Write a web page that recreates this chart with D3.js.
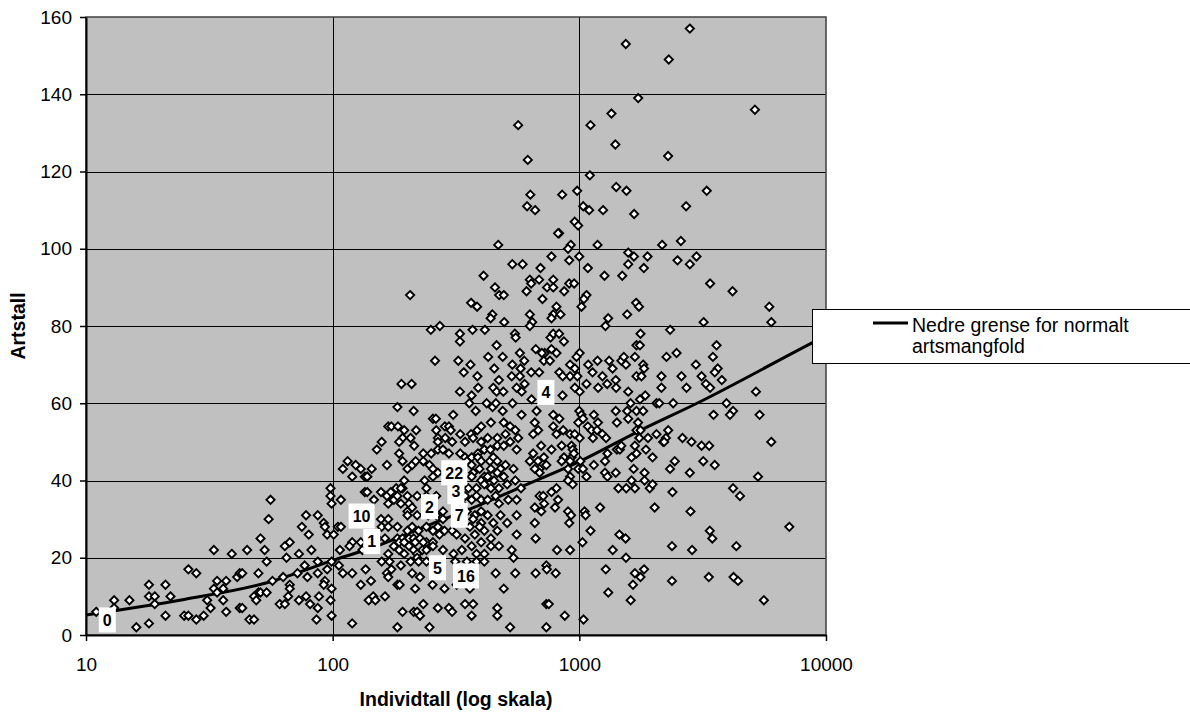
<!DOCTYPE html>
<html>
<head>
<meta charset="utf-8">
<script src="https://cdn.jsdelivr.net/npm/d3@7"></script>
<style>
body { margin: 0; background: #fff; }
text { font-family: "Liberation Sans", Arial, sans-serif; }
</style>
</head>
<body>
<script>
// [individtall, artstall] for each sample
var punkter = [
[11,6],[13,9],[13,7],[15,9],[16,2],[18,13],[18,10],[18,3],[19,10],[19,8],[21,13],[22,10],[21,5],[25,5],[26,5],[26,17],[28,16],[28,4],[30,5],[31,9],[32,7],[33,22],[33,12],[34,14],[34,11],[36,12],[36,9],[37,14],[37,6],[39,21],[41,15],[42,16],[43,16],[42,7],[43,7],[45,22],[46,4],[48,4],[48,10],[50,11],[50,16],[51,11],[49,9],[51,25],[53,22],[54,19],[54,11],[55,30],[56,35],[57,14],[61,8],[64,8],[63,15],[64,23],[65,20],[67,24],[67,13],[67,12],[66,10],[73,21],[73,9],[72,16],[75,28],[78,31],[78,10],[77,18],[79,15],[80,26],[81,8],[82,22],[87,31],[87,19],[87,16],[88,10],[87,7],[86,4],[92,29],[93,28],[95,26],[93,14],[92,13],[98,38],[98,36],[99,34],[99,19],[99,12],[99,5],[95,17],[98,9],
[366,62],[536,60],[358,60],[380,58],[421,60],[445,59],[459,60],[489,58],[583,57],[183,59],[213,58],[308,57],[255,56],[262,56],[285,54],[168,54],[173,54],[184,54],[195,53],[218,53],[263,53],[296,54],[301,53],[329,52],[364,52],[386,53],[400,54],[438,55],[494,55],[524,54],[550,53],[192,51],[207,51],[267,51],[286,51],[305,50],[344,50],[371,51],[400,50],[425,51],[465,51],[502,52],[524,50],[565,51],[158,50],[151,48],[186,50],[214,49],[186,47],[233,47],[267,50],[267,48],[280,48],[296,47],[329,47],[344,46],[366,46],[388,47],[412,48],[436,48],[465,49],[494,49],[557,48],[251,47],
[115,45],[110,43],[124,44],[130,43],[135,41],[138,41],[144,43],[166,44],[192,45],[201,43],[210,44],[217,45],[233,45],[247,44],[255,43],[267,42],[350,45],[366,44],[388,46],[400,45],[434,45],[448,46],[465,45],[479,43],[502,44],[541,43],[371,42],[394,43],[412,41],[438,43],[465,42],[120,41],[138,41],[195,40],[236,40],[255,41],[334,40],[366,41],[400,40],[425,41],[451,40],[494,41],[550,40],[355,38],[383,38],[412,39],[438,38],[472,38],[510,39],[580,38],[240,38],[192,38],[181,38],
[108,35],[135,37],[138,37],[147,35],[157,37],[166,36],[172,37],[177,35],[183,36],[189,38],[201,36],[189,34],[168,34],[204,34],[220,36],[240,36],[247,35],[263,36],[344,36],[366,35],[383,36],[400,35],[425,35],[458,36],[472,34],[515,35],[557,35],[334,34],[280,32],[201,32],[210,33],[105,28],[108,28],[157,30],[168,30],[183,28],[201,31],[220,31],[244,31],[263,31],[280,30],[329,33],[350,32],[377,31],[400,32],[400,29],[425,31],[448,29],[510,29],[557,31],[479,31],[371,30],[394,28],[158,28],[168,28],
[101,26],[120,24],[130,24],[152,25],[163,25],[183,25],[192,25],[201,27],[210,28],[223,27],[240,28],[255,27],[267,28],[271,26],[284,27],[305,27],[318,26],[344,25],[360,28],[377,26],[412,27],[438,25],[465,27],[557,26],[204,25],[213,25],[226,25],[240,24],[255,24],[186,24],[195,24],[216,24],[233,24],[107,22],[117,23],[132,22],[168,21],[186,22],[195,21],[204,23],[213,22],[220,21],[231,22],[240,22],[255,23],[280,22],[309,21],[334,22],[366,23],[400,24],[383,21],[412,21],[438,23],[472,23],[532,22],[177,23],
[106,18],[110,16],[120,16],[136,17],[166,16],[173,17],[168,15],[189,18],[207,19],[220,20],[223,19],[240,19],[314,19],[350,19],[383,19],[412,19],[458,16],[541,20],[158,19],[170,19],[130,13],[143,14],[183,13],[187,13],[210,16],[216,12],[226,15],[254,13],[284,12],[318,13],[360,12],[494,12],[550,16],[140,9],[146,10],[149,9],[163,10],[233,8],[267,7],[296,7],[344,8],[371,8],[465,7],[120,3],[183,2],[192,6],[213,6],[220,6],[226,5],[247,2],[366,5],[465,5],[524,2],[305,6],
[469,101],[535,96],[589,96],[409,93],[455,90],[473,88],[494,88],[611,89],[206,88],[364,86],[385,85],[444,83],[437,82],[496,81],[250,79],[272,80],[328,78],[328,76],[369,79],[414,79],[548,78],[552,77],[462,75],[574,73],[260,71],[323,71],[362,70],[427,72],[489,72],[340,68],[386,67],[452,69],[535,70],[578,69],[598,71],[532,67],[574,67],[472,66],[600,65],[190,65],[209,65],[328,63],[389,64],[448,64],[462,63],[557,64],[584,63],[492,63],
[2805,157],[1543,153],[2305,149],[1732,139],[5150,136],[1350,135],[565,132],[1110,132],[1400,127],[618,123],[2290,124],[1103,119],[633,114],[614,111],[662,110],[852,114],[980,115],[1037,111],[1096,110],[1248,110],[1411,116],[1553,115],[1668,109],[3285,115],[2710,111],[958,107],[989,106],[828,104],[820,104],[2580,102],[2166,101],[1185,101],[923,101],[900,100],
[696,95],[771,98],[910,97],[999,98],[1083,95],[1578,99],[1665,98],[1890,98],[1578,96],[1826,95],[2500,97],[2985,98],[2806,96],[1265,93],[1493,93],[630,92],[687,92],[638,91],[740,90],[784,92],[784,90],[868,89],[910,91],[953,91],[709,87],[1069,88],[1043,87],[1020,85],[808,85],[784,83],[839,83],[630,83],[644,81],[630,80],[771,82],[1699,86],[1745,85],[1563,83],[1309,82],[1276,80],[2334,79],[1770,78],[1705,75],[1760,75],[666,74],[724,73],[764,77],[784,78],[828,78],[866,76],[808,73],[705,73],[718,71],[771,74],[760,71],[1003,73],[974,72],[917,70],[1185,71],[1321,71],[1481,71],[1515,72],[1680,72],[2256,72],[2479,73],[2968,70],[1086,70],[959,69],[917,67],[982,67],[830,68],[856,67],[638,68],[687,68],[1131,68],[1364,69],[1241,67],[1405,66],[1545,70],[1815,70],[1830,69],[1705,67],[1786,67],[2152,67],[2595,67],[1069,65],[1192,64],[1297,65],[1410,64],[1578,63],[2152,64],[2720,64],[1003,63],[959,64],
[640,61],[855,62],[1613,60],[1761,61],[1850,62],[2055,60],[2109,60],[2402,60],[671,58],[784,57],[830,56],[1000,58],[1020,57],[1035,56],[990,55],[1145,57],[1190,55],[1405,58],[1420,55],[1563,58],[1578,56],[1705,58],[1815,58],[1730,55],[660,55],[650,52],[681,53],[784,54],[860,53],[808,52],[917,52],[958,52],[1003,51],[1083,54],[1120,53],[1135,51],[1180,53],[1240,52],[1284,51],[1705,53],[1770,53],[1750,51],[1898,51],[2055,52],[2187,50],[2243,51],[2292,53],[2207,50],[2620,51],[2850,50],
[650,47],[700,49],[771,48],[848,49],[866,46],[848,45],[930,49],[940,48],[930,46],[950,47],[630,45],[680,45],[718,46],[735,44],[690,43],[660,43],[690,42],[917,45],[1010,45],[990,43],[1035,43],[900,43],[917,41],[900,40],[940,39],[1069,41],[1145,44],[1271,45],[1300,47],[1271,42],[1300,41],[1405,42],[1420,48],[1460,48],[1480,49],[1628,46],[1660,43],[1680,49],[1705,47],[1862,48],[1981,46],[1838,42],[1628,40],[1838,40],[1550,38],[1440,38],[1680,38],[1930,38],[1981,39],[2385,37],[2437,45],[2332,43],[2805,42],
[690,36],[720,34],[771,37],[808,38],[820,35],[714,36],[797,33],[660,33],[701,32],[900,32],[926,31],[1050,32],[1060,31],[910,29],[1214,33],[2020,33],[2823,32],[660,29],[665,25],[1110,27],[1030,24],[1453,26],[1540,25],[1366,22],[1546,20],[2375,23],[2865,22],[812,22],[917,22],[665,16],[735,18],[738,17],[802,16],[1280,17],[1680,16],[1770,15],[1830,17],[1650,13],[1310,11],[1615,9],[2375,14],[735,8],[752,8],[873,5],[735,2],[1040,4],
[3390,91],[4180,89],[3190,81],[5890,85],[6000,81],[3600,75],[3480,72],[3640,69],[3540,68],[3130,67],[3780,66],[3260,65],[3390,64],[5200,63],[3950,60],[4200,58],[4080,57],[3500,57],[5380,57],[3130,49],[3360,49],[6000,50],[3180,45],[3540,44],[5300,41],[4200,38],[4480,36],[7100,28],[3380,27],[3460,25],[4330,23],[3350,15],[4220,15],[4400,14],[5600,9]
];

// lower limit curve
var grenseX = [10, 25, 56, 97, 155, 247, 396, 630, 1000, 1770, 3000, 8700, 10000];
var grenseY = [5.2, 9.2, 13.8, 19, 23.3, 28.5, 33.7, 39.3, 44.9, 53, 60, 75.5, 77.5];

// numbered sites with labels
var lokNavn = ['0', '10', '1', '2', '22', '3', '7', '4', '5', '16'];
var lokX = [12.2, 131, 144, 247, 311, 316, 326, 732, 266, 347];
var lokY = [3.9, 30.8, 24.2, 33.2, 42, 37.1, 31, 62.8, 17.4, 15.3];

var yTicks = [0, 20, 40, 60, 80, 100, 120, 140, 160];
var xTicks = [10, 100, 1000, 10000];

var pLeft = 86, pRight = 826, pTop = 17, pBottom = 635;

var svg = d3.select('body').append('svg').attr('width', 1190).attr('height', 713);

var x = d3.scaleLog().domain([10, 10000]).range([pLeft, pRight]);
var y = d3.scaleLinear().domain([0, 160]).range([pBottom, pTop]);

svg.append('rect').attr('x', pLeft).attr('y', pTop).attr('width', pRight - pLeft).attr('height', pBottom - pTop)
	.attr('fill', '#c0c0c0');

/* grid */
svg.append('g').selectAll('line').data(yTicks.slice(1, -1)).enter().append('line')
	.attr('x1', pLeft).attr('x2', pRight).attr('y1', function(d){ return Math.round(y(d)) + 0.5; }).attr('y2', function(d){ return Math.round(y(d)) + 0.5; })
	.style('stroke', '#000').style('stroke-width', 1);
svg.append('g').selectAll('line').data([100, 1000]).enter().append('line')
	.attr('y1', pTop).attr('y2', pBottom).attr('x1', function(d){ return Math.round(x(d)) + 0.5; }).attr('x2', function(d){ return Math.round(x(d)) + 0.5; })
	.style('stroke', '#000').style('stroke-width', 1);

svg.append('rect').attr('x', pLeft).attr('y', pTop).attr('width', pRight - pLeft).attr('height', pBottom - pTop)
	.attr('fill', 'none').style('stroke', '#404040').style('stroke-width', 1.5);

/* axes */
var yAxis = svg.append('g').attr('transform', 'translate(' + pLeft + ',0)')
	.call(d3.axisLeft(y).tickValues(yTicks).tickSize(6).tickSizeOuter(0).tickPadding(8));
var xAxis = svg.append('g').attr('transform', 'translate(0,' + pBottom + ')')
	.call(d3.axisBottom(x).tickValues(xTicks).tickFormat(d3.format('d')).tickSize(6).tickSizeOuter(0).tickPadding(17));
[yAxis, xAxis].forEach(function(a){
	a.select('.domain').style('stroke', '#000').style('stroke-width', 2);
	a.selectAll('.tick line').style('stroke', '#000').style('stroke-width', 1.5);
	a.selectAll('.tick text').style('font-family', '"Liberation Sans", Arial, sans-serif').style('font-size', '19px').attr('fill', '#000');
});

/* curve */
var linje = d3.line().x(function(d){ return x(d[0]); }).y(function(d){ return y(d[1]); }).curve(d3.curveMonotoneX);
svg.append('path').datum(grenseX.map(function(v, i){ return [v, grenseY[i]]; }))
	.attr('d', linje).attr('fill', 'none').style('stroke', '#000').style('stroke-width', 3);

/* points */
var r = 4.1;
svg.append('g').selectAll('path').data(punkter).enter().append('path')
	.attr('d', 'M0,' + (-r) + 'L' + r + ',0L0,' + r + 'L' + (-r) + ',0Z')
	.attr('transform', function(d){ return 'translate(' + x(d[0]) + ',' + y(d[1]) + ')'; })
	.attr('fill', '#fff').style('stroke', '#000').style('stroke-width', 1.9);

/* site labels */
var lok = svg.append('g').selectAll('g').data(lokNavn).enter().append('g')
	.attr('transform', function(d, i){ return 'translate(' + x(lokX[i]) + ',' + y(lokY[i]) + ')'; });
lok.append('rect').attr('x', function(d){ return -(d.length * 9 + 8) / 2; }).attr('y', -12.5)
	.attr('width', function(d){ return d.length * 9 + 8; }).attr('height', 25).attr('fill', '#fff');
lok.append('text').text(function(d){ return d; }).attr('text-anchor', 'middle').attr('dy', '0.36em')
	.style('font-size', '16px').style('font-weight', 'bold').attr('fill', '#000');

/* titles */
svg.append('text').attr('transform', 'translate(25,' + ((pTop + pBottom) / 2) + ') rotate(-90)')
	.attr('text-anchor', 'middle').style('font-size', '19.5px').style('font-weight', 'bold').text('Artstall');
svg.append('text').attr('x', (pLeft + pRight) / 2).attr('y', 706)
	.attr('text-anchor', 'middle').style('font-size', '19.5px').style('font-weight', 'bold').text('Individtall (log skala)');

/* legend */
svg.append('rect').attr('x', 812.5).attr('y', 309.5).attr('width', 380).attr('height', 54)
	.attr('fill', '#fff').style('stroke', '#000').style('stroke-width', 1);
svg.append('line').attr('x1', 873).attr('x2', 908).attr('y1', 323).attr('y2', 323).style('stroke', '#000').style('stroke-width', 3);
svg.append('text').attr('x', 912).attr('y', 331.5).style('font-size', '19.5px').text('Nedre grense for normalt');
svg.append('text').attr('x', 912).attr('y', 353).style('font-size', '19.5px').text('artsmangfold');
</script>
</body>
</html>
